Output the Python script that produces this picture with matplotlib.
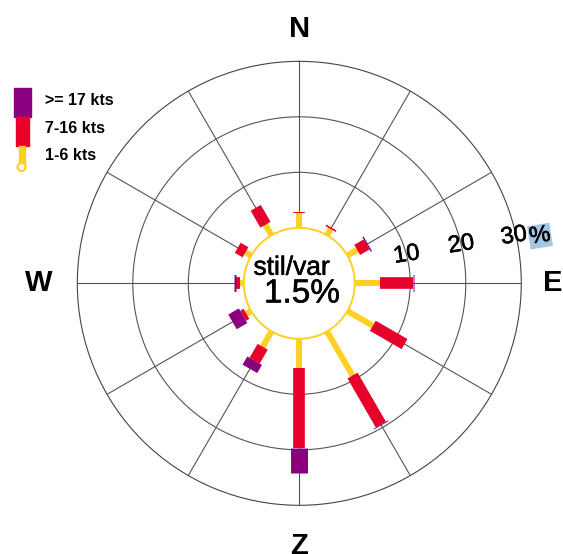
import matplotlib.pyplot as plt
import matplotlib.patheffects as pe
import numpy as np

plt.rcParams['font.family'] = ['Liberation Sans', 'DejaVu Sans']

# wind directions (degrees, clockwise from north) and frequency per speed class (%)
directions = [0, 30, 60, 90, 120, 150, 180, 210, 240, 270, 300, 330]
light = [2.6, 1.3, 2.05, 4.5, 5.3, 9.2, 5.3, 3.2, 1.0, 0.7, 1.2, 2.2]      # 1-6 kts
moderate = [0.3, 0.3, 1.95, 5.9, 6.6, 10.2, 14.4, 2.9, 0.7, 0.7, 1.6, 3.5]  # 7-16 kts
strong = [0, 0, 0.25, 0.35, 0, 0.15, 4.5, 1.7, 2.2, 0.35, 0, 0]           # >= 17 kts
calm = 1.5

ring_labels = ["10", "20", "30"]
compass = ["N", "E", "Z", "W"]
class_labels = [">= 17 kts", "7-16 kts", "1-6 kts"]

yellow = "#fdd022"
red = "#e6002a"
purple = "#8b007f"
heavy = [pe.withStroke(linewidth=0.4, foreground="black")]

fig = plt.figure(figsize=(5.63, 5.54), dpi=100)
ax = fig.add_axes([0.1373, 0.0879, 0.7886, 0.8014], projection="polar")
ax.set_theta_zero_location("N")
ax.set_theta_direction(-1)
ax.set_rorigin(-10)
ax.set_ylim(0, 30)
ax.set_thetagrids(directions, labels=[])
ax.set_rgrids([10, 20], labels=[])
ax.grid(True, color="#555555", linewidth=0.8)
ax.spines["polar"].set_color("#444444")
ax.spines["polar"].set_linewidth(0.8)
ax.spines["inner"].set_color(yellow)
ax.spines["inner"].set_linewidth(1.4)

theta = np.radians(directions)
r1 = np.array(light)
r2 = r1 + np.array(moderate)
r3 = r2 + np.array(strong)
for t, a, b, c in zip(theta, r1, r2, r3):
    ax.plot([t, t], [0, a], color=yellow, lw=4.3, solid_capstyle="butt", zorder=3)
    if b > a:
        ax.plot([t, t], [a, b], color=red, lw=8.4, solid_capstyle="butt", zorder=4)
    if c > b:
        ax.plot([t, t], [b, c], color=purple, lw=12.2, solid_capstyle="butt", zorder=5)

# ring labels
for lab, r, ang in zip(ring_labels, [10, 20, 29.6], [75.2, 76.6, 77.6]):
    ax.text(np.radians(ang), r, lab, fontsize=17, rotation=9,
            ha="center", va="center", zorder=6, path_effects=heavy)
ax.text(np.radians(78.9), 34.2, "%", fontsize=17, rotation=9, ha="center", va="center",
        bbox=dict(facecolor="#a3c6e3", edgecolor="none", pad=0.5), clip_on=False,
        path_effects=heavy)

# compass labels
for lab, ang, r in zip(compass, [0, 90, 180, 270], [35.8, 35.6, 37.4, 37.0]):
    ax.text(np.radians(ang), r, lab, fontsize=21, fontweight="bold",
            ha="center", va="center", clip_on=False)

# calm in the centre
ax.text(0.483, 0.535, "stil/var", transform=ax.transAxes, fontsize=19,
        ha="center", va="center", path_effects=heavy)
ax.text(0.506, 0.476, f"{calm}%", transform=ax.transAxes, fontsize=24,
        ha="center", va="center", path_effects=heavy)

# legend, drawn in pixel space
lg = fig.add_axes([0, 0, 1, 1])
lg.set_xlim(0, 563)
lg.set_ylim(554, 0)
lg.axis("off")
lg.add_patch(plt.Rectangle((14, 88.3), 16.7, 29, color=purple))
lg.add_patch(plt.Rectangle((16, 117.3), 13.3, 28.7, color=red))
lg.add_patch(plt.Rectangle((18.5, 146), 6.2, 17.5, color=yellow))
lg.add_patch(plt.Circle((21.6, 167), 4, facecolor="white", edgecolor=yellow, lw=1.5))
for lab, y in zip(class_labels, [100.7, 128.3, 155]):
    lg.text(45, y, lab, fontsize=11.5, fontweight="bold", ha="left", va="center")

fig.savefig("out.png", dpi=100)
